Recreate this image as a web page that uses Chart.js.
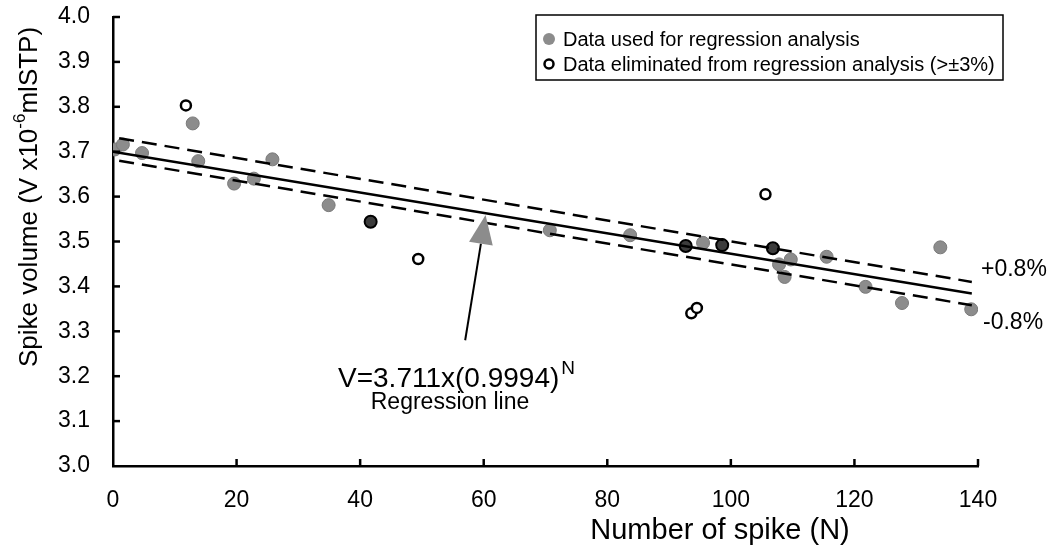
<!DOCTYPE html>
<html>
<head>
<meta charset="utf-8">
<script src="https://cdn.jsdelivr.net/npm/chart.js@4.4.1/dist/chart.umd.min.js"></script>
<style>
  html, body { margin: 0; padding: 0; background: #fff; }
  #wrap { width: 1048px; height: 556px; position: relative; }
</style>
</head>
<body>
<div id="wrap"><canvas id="main-chart"></canvas></div>
<script>
// points used for the regression (grey)
const usedN = [0.3, 1.6, 4.7, 12.9, 13.8, 19.6, 22.8, 25.8, 34.9, 70.7, 83.7, 95.5, 107.8, 108.7, 109.7, 115.5, 121.8, 127.7, 133.9, 138.9];
const usedV = [3.705, 3.716, 3.697, 3.763, 3.679, 3.629, 3.640, 3.683, 3.581, 3.525, 3.514, 3.497, 3.449, 3.421, 3.460, 3.466, 3.399, 3.363, 3.487, 3.349];

// dark points (grey dot under a ring)
const darkN = [41.7, 92.7, 98.6, 106.8];
const darkV = [3.544, 3.490, 3.492, 3.485];

// points eliminated from the regression (open rings)
const elimN = [11.8, 49.4, 93.6, 94.5, 105.6];
const elimV = [3.803, 3.461, 3.340, 3.352, 3.605];

// regression line and the +/-0.8% band, read at both ends
const lineN = [0, 139];
const lineV = [3.700, 3.384];
const upperN = [1, 139];
const upperV = [3.730, 3.410];
const lowerN = [1, 139];
const lowerV = [3.680, 3.358];

// arrow pointing at the regression line (tail, head)
const arrowN = [57.0, 60.3];
const arrowV = [3.280, 3.559];

const xTicks = [0, 20, 40, 60, 80, 100, 120, 140];
const yTicks = [3.0, 3.1, 3.2, 3.3, 3.4, 3.5, 3.6, 3.7, 3.8, 3.9, 4.0];

const FONT = '"Liberation Sans", Arial, Helvetica, sans-serif';
const GREY = '#8c8c8c';

const pts = (xs, ys) => xs.map((x, i) => ({ x: x, y: ys[i] }));

// inward tick marks, titles, legend box and the annotation
const extras = {
    id: 'extras',
    afterDraw(chart) {
        const ctx = chart.ctx;
        const xs = chart.scales.x, ys = chart.scales.y;
        const a = chart.chartArea;
        ctx.save();
        ctx.strokeStyle = '#000';
        ctx.lineWidth = 2.5;

        yTicks.slice(1).forEach(v => {
            const py = ys.getPixelForValue(v);
            ctx.beginPath(); ctx.moveTo(a.left, py); ctx.lineTo(a.left + 7, py); ctx.stroke();
        });
        xTicks.slice(1).forEach(v => {
            const px = xs.getPixelForValue(v);
            ctx.beginPath(); ctx.moveTo(px, a.bottom); ctx.lineTo(px, a.bottom - 7); ctx.stroke();
        });

        // arrow
        const tx = xs.getPixelForValue(arrowN[0]), ty = ys.getPixelForValue(arrowV[0]);
        const hx = xs.getPixelForValue(arrowN[1]), hy = ys.getPixelForValue(arrowV[1]);
        const ang = Math.atan2(hy - ty, hx - tx);
        const len = 29, half = 12;
        const bx = hx - len * Math.cos(ang), by = hy - len * Math.sin(ang);
        ctx.lineWidth = 2;
        ctx.beginPath(); ctx.moveTo(tx, ty); ctx.lineTo(bx, by); ctx.stroke();
        ctx.fillStyle = GREY;
        ctx.beginPath();
        ctx.moveTo(hx, hy);
        ctx.lineTo(bx + half * Math.sin(ang), by - half * Math.cos(ang));
        ctx.lineTo(bx - half * Math.sin(ang), by + half * Math.cos(ang));
        ctx.closePath(); ctx.fill();

        ctx.fillStyle = '#000';
        ctx.textBaseline = 'alphabetic';

        // equation
        ctx.font = '28px ' + FONT;
        ctx.textAlign = 'left';
        const eq = 'V=3.711x(0.9994)';
        ctx.fillText(eq, 338, 387);
        const eqW = ctx.measureText(eq).width;
        ctx.font = '19px ' + FONT;
        ctx.fillText('N', 338 + eqW + 2, 374);
        ctx.font = '23px ' + FONT;
        ctx.textAlign = 'center';
        ctx.fillText('Regression line', 450, 409);

        // band labels
        ctx.textAlign = 'left';
        ctx.textBaseline = 'middle';
        ctx.font = '23px ' + FONT;
        ctx.fillText('+0.8%', a.right + 3, ys.getPixelForValue(upperV[1]) - 12);
        ctx.fillText('-0.8%', a.right + 5, ys.getPixelForValue(lowerV[1]) + 17);

        // x axis title
        ctx.font = '29px ' + FONT;
        ctx.textAlign = 'center';
        ctx.fillText('Number of spike (N)', 720, 531);

        // y axis title with superscript
        ctx.save();
        ctx.translate(30, 197);
        ctx.rotate(-Math.PI / 2);
        ctx.textAlign = 'left';
        const p1 = 'Spike volume (V x10', p2 = '-6', p3 = 'mlSTP)';
        ctx.font = '26px ' + FONT;
        const w1 = ctx.measureText(p1).width, w3 = ctx.measureText(p3).width;
        ctx.font = '17px ' + FONT;
        const w2 = ctx.measureText(p2).width;
        let cx = -(w1 + w2 + w3) / 2;
        ctx.font = '26px ' + FONT;
        ctx.fillText(p1, cx, 0); cx += w1;
        ctx.font = '17px ' + FONT;
        ctx.fillText(p2, cx, -10); cx += w2;
        ctx.font = '26px ' + FONT;
        ctx.fillText(p3, cx, 0);
        ctx.restore();

        // legend box
        ctx.lineWidth = 1.5;
        ctx.strokeStyle = '#000';
        ctx.strokeRect(536, 15, 467, 65);
        ctx.fillStyle = GREY;
        ctx.beginPath(); ctx.arc(549, 39, 6, 0, Math.PI * 2); ctx.fill();
        ctx.lineWidth = 2.5;
        ctx.beginPath(); ctx.arc(549, 64, 4.5, 0, Math.PI * 2); ctx.stroke();
        ctx.fillStyle = '#000';
        ctx.font = '20px ' + FONT;
        ctx.textAlign = 'left';
        ctx.fillText('Data used for regression analysis', 563, 40);
        ctx.fillText('Data eliminated from regression analysis (>\u00b13%)', 563, 65);

        ctx.restore();
    }
};

new Chart(document.getElementById('main-chart').getContext('2d'), {
    type: 'scatter',
    data: {
        datasets: [
            { label: 'Regression line', data: pts(lineN, lineV), showLine: true, borderColor: '#000', borderWidth: 2.5, pointRadius: 0 },
            { label: '+0.8%', data: pts(upperN, upperV), showLine: true, borderColor: '#000', borderWidth: 2.5, borderDash: [15, 8], pointRadius: 0 },
            { label: '-0.8%', data: pts(lowerN, lowerV), showLine: true, borderColor: '#000', borderWidth: 2.5, borderDash: [15, 8], pointRadius: 0 },
            { label: 'Data used for regression analysis', data: pts(usedN, usedV), backgroundColor: GREY, borderColor: '#7a7a7a', borderWidth: 1, pointRadius: 6.5 },
            { label: 'both', data: pts(darkN, darkV), backgroundColor: '#3c3c3c', borderColor: '#000', borderWidth: 2, pointRadius: 6 },
            { label: 'Data eliminated from regression analysis (>\u00b13%)', data: pts(elimN, elimV), backgroundColor: '#fff', borderColor: '#000', borderWidth: 2.5, pointRadius: 5 }
        ]
    },
    options: {
        responsive: true,
        maintainAspectRatio: false,
        animation: false,
        layout: { padding: { top: 17, right: 70, left: 0, bottom: 0 } },
        plugins: { legend: { display: false }, tooltip: { enabled: false } },
        scales: {
            x: {
                type: 'linear', min: 0, max: 140,
                afterFit: s => { s.height = 90; s.paddingLeft = 0; s.paddingRight = 0; },
                afterBuildTicks: s => { s.ticks = xTicks.map(v => ({ value: v })); },
                grid: { display: false },
                border: { display: true, color: '#000', width: 2.5 },
                ticks: { color: '#000', padding: 13, font: { family: FONT, size: 23 }, maxRotation: 0 }
            },
            y: {
                type: 'linear', min: 3.0, max: 4.0,
                afterFit: s => { s.width = 113; s.paddingTop = 0; s.paddingBottom = 0; },
                afterBuildTicks: s => { s.ticks = yTicks.map(v => ({ value: v })); },
                grid: { display: false },
                border: { display: true, color: '#000', width: 2.5 },
                ticks: { color: '#000', padding: 15, font: { family: FONT, size: 23 }, callback: v => v.toFixed(1) }
            }
        }
    },
    plugins: [extras]
});
</script>
</body>
</html>
